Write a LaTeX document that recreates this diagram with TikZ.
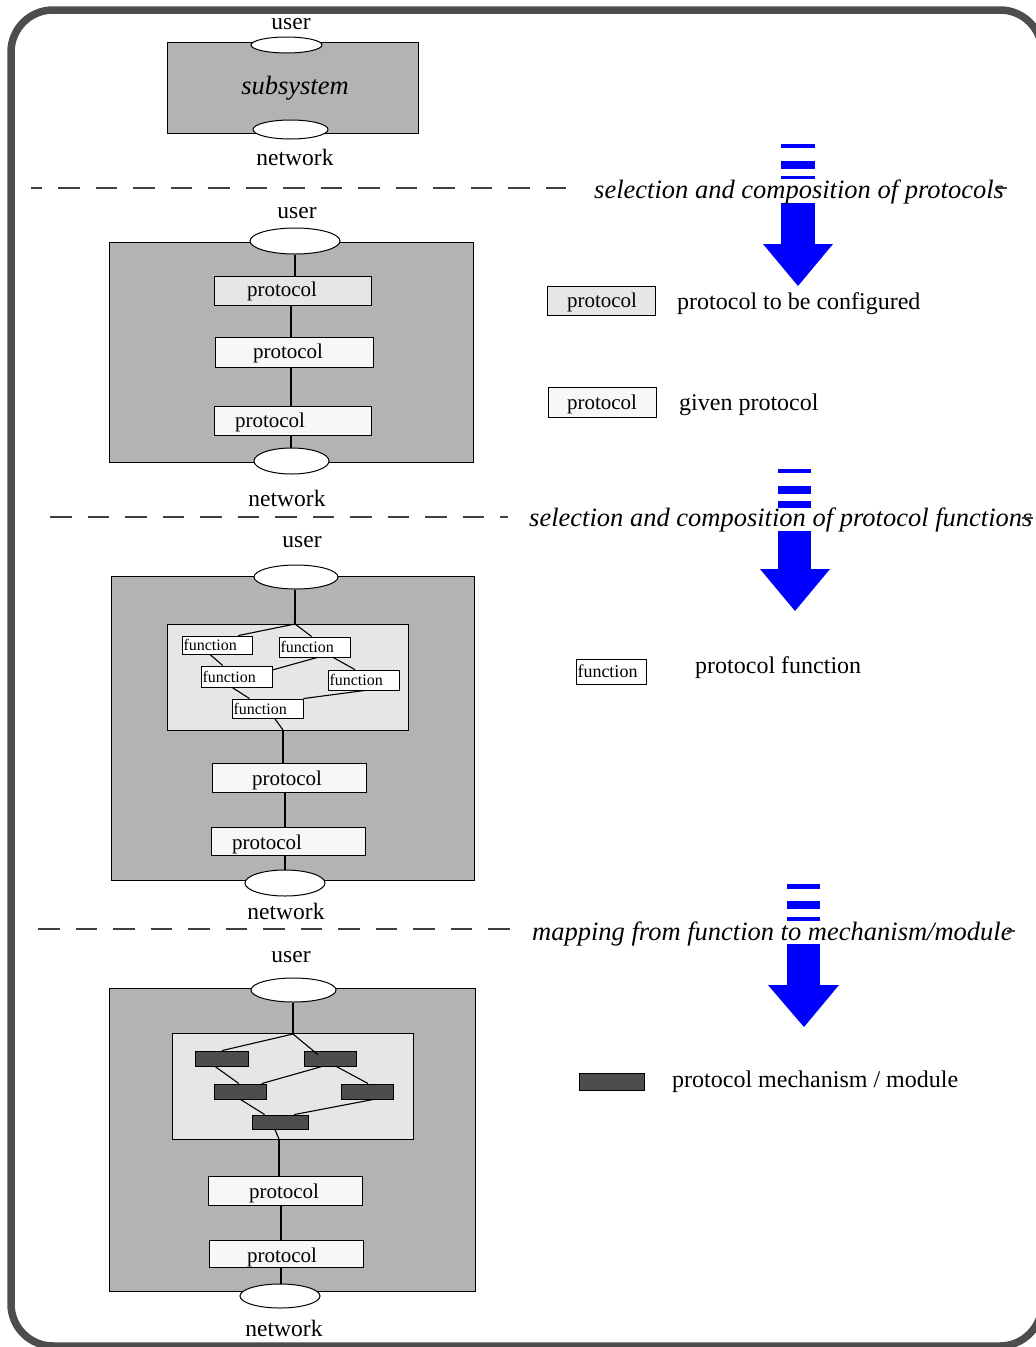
\documentclass[tikz,border=0pt]{standalone}
\usepackage{fontspec}
\setmainfont{Liberation Serif}
\usetikzlibrary{shapes.geometric,calc}
\definecolor{panelgray}{HTML}{B3B3B3}
\definecolor{lightfill}{HTML}{E6E6E6}
\definecolor{givenfill}{HTML}{F7F7F7}
\definecolor{mechfill}{HTML}{4D4D4D}
\definecolor{bordergray}{HTML}{4D4D4D}
\definecolor{dashgray}{HTML}{404040}
\newcommand\fsz[1]{\fontsize{#1}{#1}\selectfont}
\begin{document}
\begin{tikzpicture}[x=1pt,y=-1pt,
  panel/.style={draw=black,line width=1pt,fill=panelgray,inner sep=0pt},
  inner/.style={draw=black,line width=1pt,fill=lightfill,inner sep=0pt},
  port/.style={draw=black,line width=1pt,fill=white,ellipse,inner sep=0pt},
  confbox/.style={draw=black,line width=0.9pt,fill=lightfill,inner sep=0pt},
  givenbox/.style={draw=black,line width=0.9pt,fill=givenfill,inner sep=0pt},
  funbox/.style={draw=black,line width=0.9pt,fill=white,inner xsep=1.5pt,inner ysep=0pt,align=left,font=\fsz{16}},
  mechbox/.style={draw=black,line width=0.9pt,fill=mechfill,inner sep=0pt},
  lbl/.style={inner sep=0pt,font=\fsz{23.5},yshift=-2pt},
  boxtxt/.style={inner sep=0pt,font=\fsz{21},yshift=-2pt},
  legtxt/.style={inner sep=0pt,font=\fsz{24},anchor=west,yshift=-2pt},
  phase/.style={inner sep=0pt,font=\fsz{26.5}\itshape,anchor=west,yshift=-2pt},
  conn/.style={draw=black,line width=1.1pt},
  sep/.style={draw=dashgray,line width=1.3pt,dash pattern=on 21.5pt off 16pt},
  bluearrow/.style={fill=blue}
]
\useasboundingbox (0,0) rectangle (1036,1347);
\fill[white] (0,0) rectangle (1036,1347);
% outer border
\draw[bordergray,line width=7.5pt,rounded corners=42pt] (11,10) rectangle (1042,1346);

% ---------------- separators ----------------
\coordinate (d1a) at (31,188); \coordinate (d1b) at (566,188);
\coordinate (d2a) at (50,517); \coordinate (d2b) at (508,517);
\coordinate (d3a) at (38,929); \coordinate (d3b) at (520,929);
\draw[sep,dash phase=10.5pt] (d1a) -- (d1b);
\draw[sep] (d2a) -- (d2b);
\draw[sep] (d3a) -- (d3b);

% ---------------- blue arrows ----------------
\fill[bluearrow] (781,144) rectangle (815,148);
\fill[bluearrow] (781,161) rectangle (815,169);
\fill[bluearrow] (781,176) rectangle (815,179);
\fill[bluearrow] (781,203) rectangle (815,245);
\fill[bluearrow] (763,244) -- (833,244) -- (798,286) -- cycle;

\fill[bluearrow] (778,469) rectangle (811,473);
\fill[bluearrow] (778,486) rectangle (811,494);
\fill[bluearrow] (778,501) rectangle (811,508);
\fill[bluearrow] (778,531) rectangle (811,570);
\fill[bluearrow] (760,569) -- (830,569) -- (795,611) -- cycle;

\fill[bluearrow] (787,884) rectangle (820,889);
\fill[bluearrow] (787,901) rectangle (820,909);
\fill[bluearrow] (787,917) rectangle (820,921);
\fill[bluearrow] (787,944) rectangle (820,986);
\fill[bluearrow] (768,985) -- (839,985) -- (804,1027) -- cycle;

% phase labels
\node[phase] (ph1) at (594,190) {selection and composition of protocols};
\node[phase] (ph2) at (529,518) {selection and composition of protocol functions};
\node[phase] (ph3) at (532,932) {mapping from function to mechanism/module};
\coordinate (e1a) at (997,188); \coordinate (e1b) at (1007,188);
\coordinate (e2a) at (1022,518); \coordinate (e2b) at (1033,518);
\coordinate (e3a) at (1007,931); \coordinate (e3b) at (1015,931);
\draw[dashgray,line width=1.3pt] (e1a) -- (e1b);
\draw[dashgray,line width=1.3pt] (e2a) -- (e2b);
\draw[dashgray,line width=1.3pt] (e3a) -- (e3b);

% ---------------- panel 1 ----------------
\node[panel,minimum width=251pt,minimum height=91pt] (sub) at (292.5,87.5) {};
\node[inner sep=0pt,font=\fsz{26.5}\itshape,yshift=-2pt] (subt) at (295,86) {subsystem};
\node[port,minimum width=71pt,minimum height=16pt] (u1) at (286.5,45) {};
\node[port,minimum width=75pt,minimum height=19pt] (n1) at (290.5,129.5) {};
\node[lbl] (u1t) at (291,22) {user};
\node[lbl] (n1t) at (295,155) {network};

% ---------------- panel 2 ----------------
\node[panel,minimum width=364pt,minimum height=220pt] (pan2) at (291,352) {};
\node[confbox,minimum width=157pt,minimum height=29pt] (p2a) at (292.5,290.5) {};
\node[givenbox,minimum width=158pt,minimum height=30pt] (p2b) at (294,352) {};
\node[givenbox,minimum width=157pt,minimum height=29pt] (p2c) at (292.5,420.5) {};
\node[boxtxt] (p2at) at (282,289) {protocol};
\node[boxtxt] (p2bt) at (288,351) {protocol};
\node[boxtxt] (p2ct) at (270,420) {protocol};
\node[port,minimum width=90pt,minimum height=26pt] (u2) at (295,241) {};
\node[port,minimum width=75pt,minimum height=26pt] (n2) at (291.5,461) {};
\node[lbl] (u2t) at (297,211) {user};
\node[lbl] (n2t) at (287,496) {network};
\coordinate (c2a) at (291,305); \coordinate (c2b) at (291,337);
\coordinate (c2c) at (291,367); \coordinate (c2d) at (291,406);
\coordinate (c2e) at (291,435);
\draw[conn] (u2.south) -- (u2.south |- p2a.north);
\draw[conn] (c2a) -- (c2b);
\draw[conn] (c2c) -- (c2d);
\draw[conn] (c2e) -- (c2e |- n2.north);

% ---------------- panel 3 ----------------
\node[panel,minimum width=363pt,minimum height=304pt] (pan3) at (292.5,728) {};
\node[inner,minimum width=241pt,minimum height=106pt] (in3) at (287.5,677) {};
\node[funbox,text width=67pt,minimum height=18pt] (F1) at (217,645) {\raisebox{-1.5pt}{function}};
\node[funbox,text width=68pt,minimum height=20pt] (F2) at (314.5,647) {\raisebox{-1.5pt}{function}};
\node[funbox,text width=68pt,minimum height=21pt] (F3) at (236.5,676.5) {\raisebox{-1.5pt}{function}};
\node[funbox,text width=68pt,minimum height=20pt] (F4) at (363.5,680) {\raisebox{-1.5pt}{function}};
\node[funbox,text width=68pt,minimum height=19pt] (F5) at (267.5,708.5) {\raisebox{-1.5pt}{function}};
\coordinate (J3) at (295,624);
\coordinate (K3) at (283,730);
\draw[conn] (J3) -- ($(F1.north west)!0.8!(F1.north east)$);
\draw[conn] (J3) -- ($(F2.north west)!0.46!(F2.north east)$);
\draw[conn] ($(F1.south west)!0.4!(F1.south east)$) -- ($(F3.north west)!0.31!(F3.north east)$);
\draw[conn] ($(F2.south west)!0.54!(F2.south east)$) -- ($(F3.north east)!0.2!(F3.south east)$);
\draw[conn] ($(F2.south west)!0.76!(F2.south east)$) -- ($(F4.north west)!0.38!(F4.north east)$);
\draw[conn] ($(F3.south west)!0.44!(F3.south east)$) -- ($(F5.north west)!0.25!(F5.north east)$);
\draw[conn] ($(F4.south west)!0.52!(F4.south east)$) -- (F5.north east);
\draw[conn] ($(F5.south west)!0.6!(F5.south east)$) -- (K3);
\node[givenbox,minimum width=154pt,minimum height=29pt] (p3a) at (289,777.5) {};
\node[givenbox,minimum width=154pt,minimum height=28pt] (p3b) at (288,841) {};
\node[boxtxt] (p3at) at (287,778) {protocol};
\node[boxtxt] (p3bt) at (267,842) {protocol};
\node[port,minimum width=84pt,minimum height=24pt] (u3) at (296,577) {};
\node[port,minimum width=80pt,minimum height=26pt] (n3) at (285,883) {};
\node[lbl] (u3t) at (302,540) {user};
\node[lbl] (n3t) at (286,909) {network};
\coordinate (c3a) at (285,792); \coordinate (c3b) at (285,827);
\coordinate (c3c) at (285,855);
\draw[conn] (u3.south -| J3) -- (J3);
\draw[conn] (K3) -- (K3 |- p3a.north);
\draw[conn] (c3a) -- (c3b);
\draw[conn] (c3c) -- (n3.north);

% ---------------- panel 4 ----------------
\node[panel,minimum width=366pt,minimum height=303pt] (pan4) at (292,1139.5) {};
\node[inner,minimum width=241pt,minimum height=106pt] (in4) at (292.5,1086) {};
\node[mechbox,minimum width=53pt,minimum height=15pt] (M1) at (221.5,1058.5) {};
\node[mechbox,minimum width=52pt,minimum height=15pt] (M2) at (330,1058.5) {};
\node[mechbox,minimum width=52pt,minimum height=15pt] (M3) at (240.5,1091.5) {};
\node[mechbox,minimum width=52pt,minimum height=15pt] (M4) at (367.5,1091.5) {};
\node[mechbox,minimum width=56pt,minimum height=14pt] (M5) at (280,1122) {};
\coordinate (J4) at (293,1034);
\coordinate (K4) at (279,1139);
\draw[conn] (J4) -- ($(M1.north west)!0.51!(M1.north east)$);
\draw[conn] (J4) -- ($(M2.north west)!0.27!(M2.north east)+(0,4)$);
\draw[conn] ($(M1.south west)!0.38!(M1.south east)$) -- ($(M3.north west)!0.47!(M3.north east)$);
\draw[conn] ($(M2.south west)!0.35!(M2.south east)$) -- ($(M3.north west)!0.9!(M3.north east)$);
\draw[conn] ($(M2.south west)!0.62!(M2.south east)$) -- ($(M4.north west)!0.51!(M4.north east)$);
\draw[conn] ($(M3.south west)!0.5!(M3.south east)$) -- ($(M5.north west)!0.23!(M5.north east)$);
\draw[conn] ($(M4.south west)!0.61!(M4.south east)$) -- ($(M5.north west)!0.75!(M5.north east)$);
\draw[conn] ($(M5.south west)!0.41!(M5.south east)$) -- (K4);
\node[givenbox,minimum width=154pt,minimum height=29pt] (p4a) at (285,1190.5) {};
\node[givenbox,minimum width=154pt,minimum height=27pt] (p4b) at (286,1253.5) {};
\node[boxtxt] (p4at) at (284,1191) {protocol};
\node[boxtxt] (p4bt) at (282,1255) {protocol};
\node[port,minimum width=85pt,minimum height=24pt] (u4) at (293.5,990) {};
\node[port,minimum width=80pt,minimum height=24pt] (n4) at (280,1296) {};
\node[lbl] (u4t) at (291,955) {user};
\node[lbl] (n4t) at (284,1326) {network};
\coordinate (c4a) at (281,1205); \coordinate (c4b) at (281,1240);
\coordinate (c4c) at (281,1267);
\draw[conn] (u4.south -| J4) -- (J4);
\draw[conn] (K4) -- (K4 |- p4a.north);
\draw[conn] (c4a) -- (c4b);
\draw[conn] (c4c) -- (c4c |- n4.north);

% ---------------- legend ----------------
\node[confbox,minimum width=108pt,minimum height=29pt] (lg1) at (601,300.5) {};
\node[boxtxt] (lg1t) at (602,300) {protocol};
\node[legtxt] (lg1d) at (677,302) {protocol to be configured};
\node[givenbox,minimum width=108pt,minimum height=30pt] (lg2) at (602,402) {};
\node[boxtxt] (lg2t) at (602,402) {protocol};
\node[legtxt] (lg2d) at (679,403) {given protocol};
\node[funbox,font=\fsz{18},text width=68pt,inner xsep=1pt,minimum height=25pt] (lg3) at (611.5,671.5) {\raisebox{-3pt}{function}};
\node[legtxt] (lg3d) at (695,666) {protocol function};
\node[mechbox,minimum width=65pt,minimum height=17pt] (lg4) at (611.5,1081.5) {};
\node[legtxt] (lg4d) at (672,1080) {protocol mechanism / module};
\end{tikzpicture}
\end{document}
